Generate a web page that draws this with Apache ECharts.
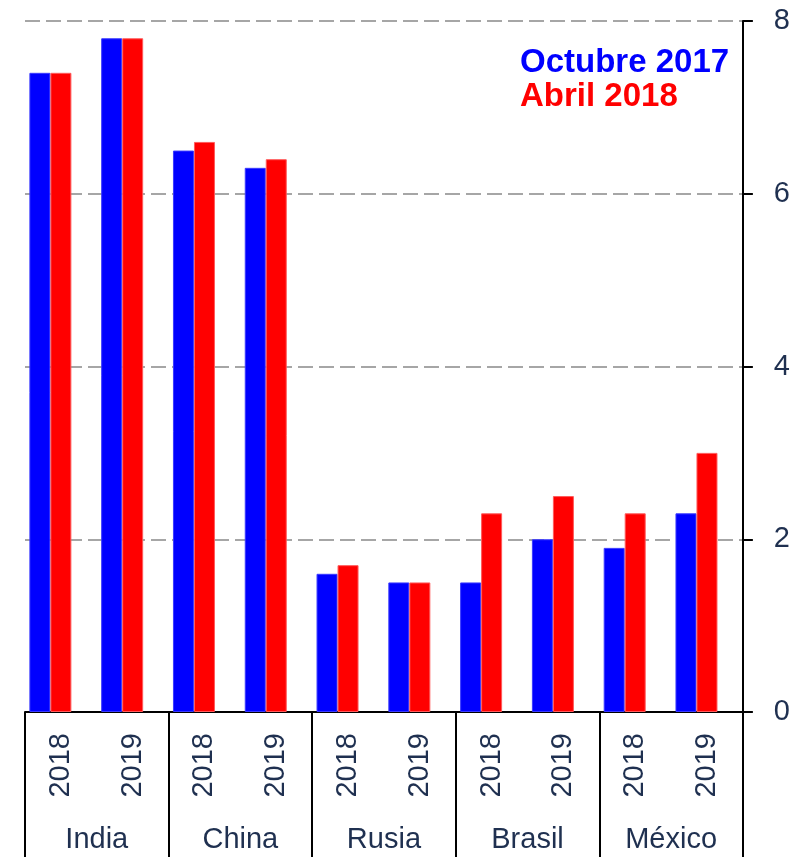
<!DOCTYPE html>
<html><head><meta charset="utf-8">
<script src="https://cdn.jsdelivr.net/npm/echarts@6/dist/echarts.min.js"></script>
<style>html,body{margin:0;padding:0;background:#fff}#c{width:793px;height:857px}</style>
</head><body><div id="c"></div>
<script>
const years = ['2018','2019','2018','2019','2018','2019','2018','2019','2018','2019'];
const countries = ['India','China','Rusia','Brasil','México'];
const octubre2017 = [7.4, 7.8, 6.5, 6.3, 1.6, 1.5, 1.5, 2.0, 1.9, 2.3];
const abril2018 = [7.4, 7.8, 6.6, 6.4, 1.7, 1.5, 2.3, 2.5, 2.3, 3.0];
const yTicks = [0, 2, 4, 6, 8];

const txt = '#1f3050';
const font = 'Liberation Sans';
const chart = echarts.init(document.getElementById('c'));
chart.setOption({
  animation: false,
  grid: {left: 25, right: 49, top: 21, bottom: 145},
  legend: {
    data: [
      {name: 'Octubre 2017', textStyle: {color: '#0000ff'}},
      {name: 'Abril 2018', textStyle: {color: '#ff0000'}}
    ],
    orient: 'vertical', left: 515, top: 41, icon: 'none', itemGap: 1,
    itemWidth: 0, itemHeight: 0,
    textStyle: {fontFamily: font, fontWeight: 'bold', fontSize: 33, padding: [0,0,0,-5]},
    selectedMode: false
  },
  xAxis: [
    {type: 'category', data: years, position: 'bottom',
     axisLine: {lineStyle: {color: '#000', width: 2}},
     axisTick: {show: false},
     axisLabel: {rotate: 90, margin: 21, color: txt, fontFamily: font, fontSize: 29, interval: 0, padding: [4,0,0,0]}},
    {type: 'category', data: countries, position: 'bottom',
     axisLine: {show: false},
     axisTick: {show: true, length: 145, lineStyle: {color: '#000', width: 2}},
     axisLabel: {margin: 113, color: txt, fontFamily: font, fontSize: 29, interval: 0}}
  ],
  yAxis: {
    type: 'value', position: 'right', min: yTicks[0], max: yTicks[yTicks.length-1], interval: 2,
    axisLine: {show: true, lineStyle: {color: '#000', width: 2}},
    axisTick: {show: true, length: 10, lineStyle: {color: '#000', width: 2}},
    axisLabel: {margin: 31, color: txt, fontFamily: font, fontSize: 29},
    splitLine: {show: true, lineStyle: {color: '#a6a6a6', width: 2, type: [15, 6]}}
  },
  series: [
    {name: 'Octubre 2017', type: 'bar', data: octubre2017, barWidth: 21, barGap: 0,
     itemStyle: {color: '#0000ff', borderColor: '#3a3aff', borderWidth: 1}},
    {name: 'Abril 2018', type: 'bar', data: abril2018, barWidth: 21, barGap: 0,
     itemStyle: {color: '#ff0000', borderColor: '#ff5a5a', borderWidth: 1}},
    {name: 'hidden', type: 'bar', data: years.map(() => null), barWidth: 21, barGap: 0}
  ]
});
</script></body></html>
